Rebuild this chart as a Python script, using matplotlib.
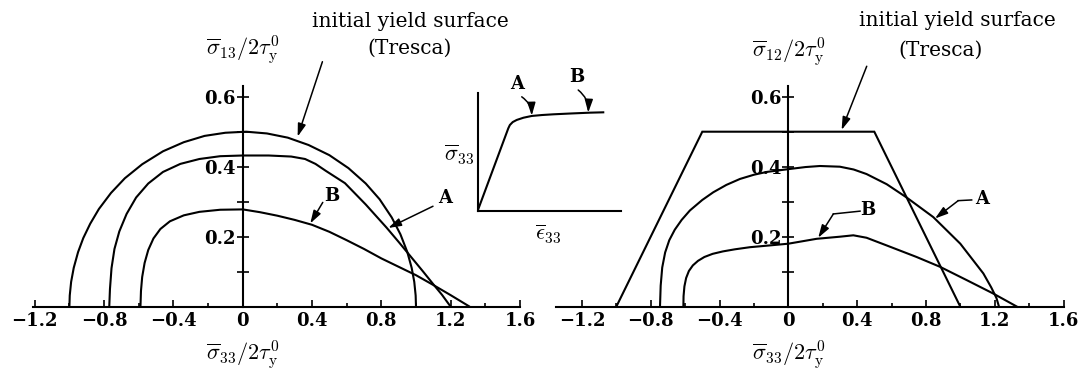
import matplotlib
matplotlib.use("Agg")
import matplotlib.pyplot as plt
from matplotlib.ticker import FixedLocator, FixedFormatter

plt.rcParams['font.family'] = ['DejaVu Serif']
plt.rcParams['mathtext.fontset'] = 'cm'

# --- sigma33 - sigma13 plane ---
tresca13_x = [-1.000, -0.998, -0.990, -0.975, -0.950, -0.920, -0.880, -0.830, -0.760, -0.680,
              -0.580, -0.460, -0.340, -0.220, -0.100, 0.020, 0.140, 0.260, 0.380, 0.500,
              0.610, 0.710, 0.790, 0.860, 0.910, 0.950, 0.975, 0.990, 0.998, 1.000]
tresca13_y = [0.000, 0.032, 0.071, 0.111, 0.156, 0.196, 0.237, 0.279, 0.325, 0.367,
              0.407, 0.444, 0.470, 0.488, 0.497, 0.500, 0.495, 0.483, 0.462, 0.433,
              0.396, 0.352, 0.307, 0.255, 0.207, 0.156, 0.111, 0.071, 0.032, 0.000]

a13_x = [-0.770, -0.766, -0.757, -0.740, -0.712, -0.670, -0.615, -0.545, -0.460, -0.360,
         -0.250, -0.130, 0.000, 0.150, 0.280, 0.360, 0.420, 0.480, 0.590, 0.710,
         0.830, 0.900, 0.970, 1.040, 1.100, 1.150, 1.200]
a13_y = [0.000, 0.050, 0.110, 0.165, 0.215, 0.265, 0.312, 0.352, 0.385, 0.408,
         0.422, 0.430, 0.432, 0.432, 0.429, 0.422, 0.408, 0.388, 0.353, 0.292,
         0.226, 0.185, 0.143, 0.101, 0.064, 0.034, 0.000]

b13_x = [-0.590, -0.587, -0.580, -0.566, -0.545, -0.515, -0.475, -0.420, -0.340, -0.250,
         -0.130, 0.000, 0.100, 0.200, 0.300, 0.400, 0.500, 0.600, 0.700, 0.800,
         0.900, 1.000, 1.100, 1.200, 1.310]
b13_y = [0.000, 0.045, 0.085, 0.125, 0.162, 0.195, 0.222, 0.244, 0.261, 0.271,
         0.277, 0.278, 0.270, 0.260, 0.248, 0.234, 0.214, 0.190, 0.165, 0.138,
         0.114, 0.090, 0.062, 0.033, 0.000]

# --- sigma33 - sigma12 plane ---
tresca12_x = [-1.0, -0.5, 0.5, 1.0]
tresca12_y = [0.0, 0.5, 0.5, 0.0]

a12_x = [-0.746, -0.742, -0.733, -0.716, -0.692, -0.660, -0.620, -0.572, -0.500, -0.436,
         -0.360, -0.281, -0.200, -0.126, 0.000, 0.100, 0.184, 0.300, 0.380, 0.455,
         0.572, 0.688, 0.843, 1.000, 1.134, 1.180, 1.210, 1.225]
a12_y = [0.000, 0.060, 0.112, 0.155, 0.190, 0.220, 0.248, 0.275, 0.305, 0.327,
         0.348, 0.365, 0.377, 0.385, 0.393, 0.399, 0.402, 0.400, 0.392, 0.379,
         0.350, 0.312, 0.256, 0.180, 0.095, 0.055, 0.025, 0.000]

b12_x = [-0.610, -0.609, -0.604, -0.594, -0.578, -0.555, -0.525, -0.488, -0.440, -0.380,
         -0.310, -0.223, -0.110, 0.000, 0.165, 0.300, 0.378, 0.455, 0.572, 0.746,
         0.882, 1.037, 1.190, 1.330]
b12_y = [0.000, 0.030, 0.058, 0.082, 0.102, 0.118, 0.131, 0.142, 0.151, 0.158,
         0.164, 0.170, 0.175, 0.180, 0.194, 0.200, 0.204, 0.197, 0.175, 0.142,
         0.114, 0.076, 0.038, 0.000]

# --- uniaxial stress-strain sketch ---
inset_eps = [0.0, 0.214, 0.225, 0.245, 0.273, 0.320, 0.378, 0.450, 0.529, 0.650, 0.785, 0.878]
inset_sig = [0.0, 0.702, 0.730, 0.755, 0.773, 0.792, 0.807, 0.815, 0.821, 0.828, 0.835, 0.838]

x_major = [-1.2, -0.8, -0.4, 0.0, 0.4, 0.8, 1.2, 1.6]
x_major_labels = ['\u22121.2', '\u22120.8', '\u22120.4', '0', '0.4', '0.8', '1.2', '1.6']
x_minor = [-1.0, -0.6, -0.2, 0.2, 0.6, 1.0, 1.4]
y_major = [0.2, 0.4, 0.6]
y_major_labels = ['0.2', '0.4', '0.6']
y_minor = [0.1, 0.3, 0.5]

xlabel = r'$\overline{\sigma}_{33}/2\tau_{\mathrm{y}}^{0}$'
ylabel_13 = r'$\overline{\sigma}_{13}/2\tau_{\mathrm{y}}^{0}$'
ylabel_12 = r'$\overline{\sigma}_{12}/2\tau_{\mathrm{y}}^{0}$'

W, H = 1079, 375
X_UNIT_L, X_UNIT_R, Y_UNIT = 173.3, 172.0, 350.0
Y0_PX = 306.7          # pixel row of sigma=0 (from top)
YLIM = (-(H - Y0_PX) / Y_UNIT, Y0_PX / Y_UNIT)

LABEL_FS = 16
NOTE_FS = 14.5

fig = plt.figure(figsize=(W / 100, H / 100), dpi=100)

arrow_kw = dict(arrowstyle='-|>,head_length=0.7,head_width=0.22', color='k', lw=1.1,
                mutation_scale=11, shrinkA=0, shrinkB=0)


def make_axes(x0_px, unit, xlim):
    left = x0_px + xlim[0] * unit
    width = (xlim[1] - xlim[0]) * unit
    ax = fig.add_axes([left / W, 0, width / W, 1])
    ax.set_xlim(*xlim)
    ax.set_ylim(*YLIM)
    ax.patch.set_visible(False)
    for side in ('top', 'right'):
        ax.spines[side].set_visible(False)
    ax.spines['left'].set_position(('data', 0))
    ax.spines['bottom'].set_position(('data', 0))
    ax.spines['left'].set_bounds(0, 0.63)
    for s in ('left', 'bottom'):
        ax.spines[s].set_linewidth(1.5)
    ax.xaxis.set_major_locator(FixedLocator(x_major))
    ax.xaxis.set_major_formatter(FixedFormatter(x_major_labels))
    ax.xaxis.set_minor_locator(FixedLocator(x_minor))
    ax.yaxis.set_major_locator(FixedLocator(y_major))
    ax.yaxis.set_major_formatter(FixedFormatter(y_major_labels))
    ax.yaxis.set_minor_locator(FixedLocator(y_minor))
    ax.tick_params(axis='x', which='major', direction='in', length=5, width=1.2,
                   labelsize=13, pad=4)
    ax.tick_params(axis='x', which='minor', direction='in', length=3, width=1.2)
    ax.tick_params(axis='y', which='both', direction='inout', length=8, width=1.2,
                   labelsize=13, pad=1)
    for lab in ax.get_xticklabels() + ax.get_yticklabels():
        lab.set_fontweight('bold')
    return ax


# left panel
axl = make_axes(242.7, X_UNIT_L, (-1.4, 1.75))
axl.spines['bottom'].set_bounds(-1.21, 1.6)
for xs, ys in ((tresca13_x, tresca13_y), (a13_x, a13_y), (b13_x, b13_y)):
    axl.plot(xs, ys, color='k', lw=1.5, solid_capstyle='butt')

axl.text(0.0, 0.735, ylabel_13, ha='center', va='center', fontsize=LABEL_FS)
axl.text(0.0, -0.138, xlabel, ha='center', va='center', fontsize=LABEL_FS)
axl.text(0.97, 0.816, 'initial yield surface', ha='center', va='center',
         fontsize=NOTE_FS)
axl.text(0.96, 0.739, '(Tresca)', ha='center', va='center', fontsize=NOTE_FS)
axl.annotate('', xy=(0.317, 0.486), xytext=(0.46, 0.70), arrowprops=arrow_kw)
axl.text(1.167, 0.31, 'A', ha='center', va='center', fontsize=13, fontweight='bold')
axl.annotate('', xy=(0.84, 0.225), xytext=(1.098, 0.287), arrowprops=arrow_kw)
axl.text(0.512, 0.317, 'B', ha='center', va='center', fontsize=13, fontweight='bold')
axl.annotate('', xy=(0.39, 0.238), xytext=(0.462, 0.298), arrowprops=arrow_kw)

# right panel
axr = make_axes(788.3, X_UNIT_R, (-1.5, 1.68))
axr.spines['bottom'].set_bounds(-1.35, 1.6)
for xs, ys in ((tresca12_x, tresca12_y), (a12_x, a12_y), (b12_x, b12_y)):
    axr.plot(xs, ys, color='k', lw=1.5, solid_joinstyle='miter')

axr.text(0.0, 0.73, ylabel_12, ha='center', va='center', fontsize=LABEL_FS)
axr.text(0.0, -0.138, xlabel, ha='center', va='center', fontsize=LABEL_FS)
axr.text(0.984, 0.819, 'initial yield surface', ha='center', va='center',
         fontsize=NOTE_FS)
axr.text(0.887, 0.733, '(Tresca)', ha='center', va='center', fontsize=NOTE_FS)
axr.annotate('', xy=(0.31, 0.505), xytext=(0.456, 0.687), arrowprops=arrow_kw)
axr.text(1.124, 0.308, 'A', ha='center', va='center', fontsize=13, fontweight='bold')
axr.plot([1.066, 0.988], [0.305, 0.303], color='k', lw=1.1)
axr.annotate('', xy=(0.853, 0.252), xytext=(0.988, 0.303), arrowprops=arrow_kw)
axr.text(0.465, 0.275, 'B', ha='center', va='center', fontsize=13, fontweight='bold')
axr.plot([0.417, 0.262], [0.273, 0.265], color='k', lw=1.1)
axr.annotate('', xy=(0.174, 0.197), xytext=(0.262, 0.265), arrowprops=arrow_kw)

# inset: stress-strain curve
axi = fig.add_axes([477.7 / W, (H - 210.7) / H, 143 / W, 117.4 / H])
axi.set_xlim(0, 1)
axi.set_ylim(0, 1)
axi.patch.set_visible(False)
for side in ('top', 'right'):
    axi.spines[side].set_visible(False)
for s in ('left', 'bottom'):
    axi.spines[s].set_linewidth(1.5)
axi.set_xticks([])
axi.set_yticks([])
axi.plot(inset_eps, inset_sig, color='k', lw=1.5)
axi.text(-0.13, 0.474, r'$\overline{\sigma}_{33}$', ha='center', va='center',
         fontsize=LABEL_FS)
axi.text(0.494, -0.2, r'$\overline{\epsilon}_{33}$', ha='center', va='center',
         fontsize=LABEL_FS)
axi.text(0.273, 1.075, 'A', ha='center', va='center', fontsize=13, fontweight='bold',
         clip_on=False)
axi.annotate('', xy=(0.378, 0.81), xytext=(0.308, 0.97), annotation_clip=False,
             arrowprops=dict(arrow_kw, connectionstyle='arc3,rad=-0.25'))
axi.text(0.692, 1.141, 'B', ha='center', va='center', fontsize=13, fontweight='bold',
         clip_on=False)
axi.annotate('', xy=(0.773, 0.836), xytext=(0.703, 1.028), annotation_clip=False,
             arrowprops=dict(arrow_kw, connectionstyle='arc3,rad=-0.25'))

fig.savefig('out.png', dpi=100)
